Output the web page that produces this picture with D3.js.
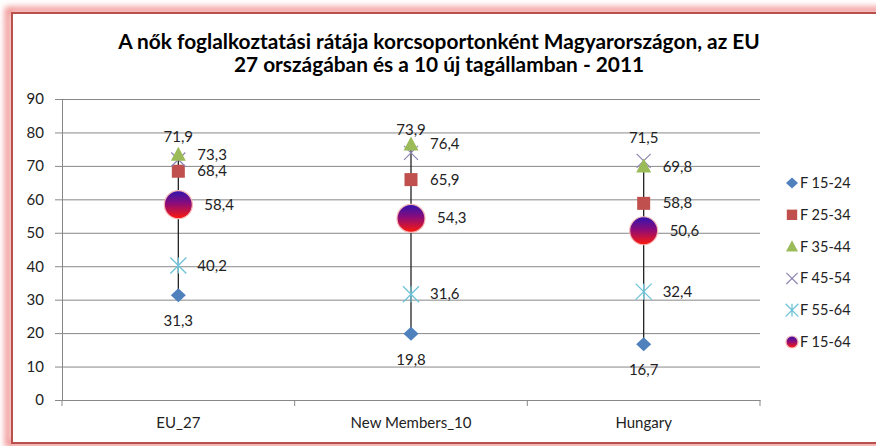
<!DOCTYPE html>
<html>
<head>
<meta charset="utf-8">
<script src="https://cdn.jsdelivr.net/npm/d3@7/dist/d3.min.js"></script>
<style>
  body { margin: 0; background: #fff; }
  svg { display: block; font-family: Lato, "Open Sans", sans-serif; }
</style>
</head>
<body>
<svg id="chart" width="876" height="446"></svg>
<script>
const titleLines = ['A nők foglalkoztatási rátája korcsoportonként Magyarországon, az EU',
    '27 országában és a 10 új tagállamban - 2011']
const categories = ['EU_27', 'New Members_10', 'Hungary']
const seriesNames = ['F 15-24', 'F 25-34', 'F 35-44', 'F 45-54', 'F 55-64', 'F 15-64']
const f1524 = [31.3, 19.8, 16.7]
const f2534 = [68.4, 65.9, 58.8]
const f3544 = [73.3, 76.4, 69.8]
const f4554 = [71.9, 73.9, 71.5]
const f5564 = [40.2, 31.6, 32.4]
const f1564 = [58.4, 54.3, 50.6]
const yTicks = [0, 10, 20, 30, 40, 50, 60, 70, 80, 90]

const seriesValues = [f1524, f2534, f3544, f4554, f5564, f1564]
const seriesStyle = [
    { shape: 'diamond', color: '#4F81BD', label: 'below' },
    { shape: 'square', color: '#C0504D', label: 'right' },
    { shape: 'triangle', color: '#9BBB59', label: 'right' },
    { shape: 'x', color: '#8C86B0', label: 'above' },
    { shape: 'star', color: '#6FC3D8', label: 'right' },
    { shape: 'ball', color: 'url(#ballGrad)', label: 'right2' }
]

const locale = d3.formatLocale({ decimal: ',', thousands: ' ', grouping: [3], currency: ['', ''] })
const fmt = locale.format('.1f')

const svg = d3.select('#chart')
const margin = { top: 99, right: 116, bottom: 46, left: 62 }
const width = +svg.attr('width') - margin.left - margin.right
const height = +svg.attr('height') - margin.top - margin.bottom

const defs = svg.append('defs')
const grad = defs.append('linearGradient').attr('id', 'ballGrad')
    .attr('x1', 0).attr('y1', 0).attr('x2', 0).attr('y2', 1)
grad.append('stop').attr('offset', '0%').attr('stop-color', '#2E14B0')
grad.append('stop').attr('offset', '45%').attr('stop-color', '#8A0C7A')
grad.append('stop').attr('offset', '100%').attr('stop-color', '#FF1A0A')
defs.append('filter').attr('id', 'glow')
    .attr('x', '-5%').attr('y', '-5%').attr('width', '110%').attr('height', '110%')
    .append('feGaussianBlur').attr('stdDeviation', 3)

// red frame with soft glow
svg.append('rect')
    .attr('x', 8).attr('y', 10).attr('width', 900).attr('height', 434)
    .attr('fill', 'none').attr('stroke', '#F08A8A').attr('stroke-width', 6)
    .attr('filter', 'url(#glow)')
svg.append('rect')
    .attr('x', 12).attr('y', 13).attr('width', 900).attr('height', 430)
    .attr('fill', '#fff').attr('stroke', '#B8504C').attr('stroke-width', 2)

// title
const title = svg.append('g').attr('font-weight', 'bold').attr('fill', '#000').attr('text-anchor', 'middle')
const t1 = title.append('text').attr('x', 439).attr('y', 49).attr('font-size', 18).text(titleLines[0])
const fs = 18 * 642 / t1.node().getComputedTextLength()
t1.attr('font-size', fs)
title.append('text').attr('x', 439).attr('y', 72).attr('font-size', fs).text(titleLines[1])

const g = svg.append('g').attr('transform', `translate(${margin.left},${margin.top})`)

const x = d3.scaleBand().domain(categories).range([0, width]).padding(0)
const y = d3.scaleLinear().domain([0, 90]).range([height, 0])

// left axis with gridlines
const yAxis = g.append('g')
    .call(d3.axisLeft(y).tickValues(yTicks).tickSizeInner(-width).tickSizeOuter(0).tickPadding(18))
yAxis.select('.domain').attr('stroke', '#888')
yAxis.selectAll('.tick line').attr('x1', -7).attr('stroke', '#888')
yAxis.selectAll('.tick text').attr('font-size', 15).attr('fill', '#222')
    .attr('font-family', 'Lato, sans-serif')

// bottom axis
const xAxis = g.append('g')
    .attr('transform', `translate(0,${height})`)
    .call(d3.axisBottom(x).tickSize(0).tickPadding(17))
xAxis.select('.domain').attr('stroke', '#888')
xAxis.selectAll('.tick text').attr('font-size', 15).attr('fill', '#222')
    .attr('font-family', 'Lato, sans-serif')
g.append('g').selectAll('line')
    .data(categories.map(c => x(c)).concat([width]))
    .join('line')
    .attr('x1', d => d).attr('x2', d => d)
    .attr('y1', height).attr('y2', height + 6)
    .attr('stroke', '#888')

const cx = c => x(c) + x.bandwidth() / 2

// high-low lines
g.append('g').selectAll('line')
    .data(categories.map((c, i) => ({
        c,
        lo: d3.min(seriesValues, s => s[i]),
        hi: d3.max(seriesValues, s => s[i])
    })))
    .join('line')
    .attr('x1', d => cx(d.c)).attr('x2', d => cx(d.c))
    .attr('y1', d => y(d.lo)).attr('y2', d => y(d.hi))
    .attr('stroke', '#222').attr('stroke-width', 1.3)

const drawMarker = (sel, shape, color, small) => {
    const k = small ? 0.8 : 1
    if (shape === 'diamond') {
        sel.append('path').attr('d', `M0,${-7 * k}L${7.5 * k},0L0,${7 * k}L${-7.5 * k},0Z`).attr('fill', color)
    } else if (shape === 'square') {
        sel.append('rect').attr('x', -6.5 * k).attr('y', -6.5 * k)
            .attr('width', 13 * k).attr('height', 13 * k).attr('fill', color)
    } else if (shape === 'triangle') {
        sel.append('path').attr('d', `M0,${-8 * k}L${7.5 * k},${6 * k}L${-7.5 * k},${6 * k}Z`).attr('fill', color)
    } else if (shape === 'x') {
        const r = 7 * k
        sel.append('path').attr('d', `M${-r},${-r}L${r},${r}M${-r},${r}L${r},${-r}`)
            .attr('stroke', color).attr('stroke-width', 1.2).attr('fill', 'none')
    } else if (shape === 'star') {
        const r = 8 * k
        sel.append('path').attr('d', `M${-r},${-r}L${r},${r}M${-r},${r}L${r},${-r}M0,${-r}L0,${r}`)
            .attr('stroke', color).attr('stroke-width', 1.3).attr('fill', 'none')
    } else if (shape === 'ball') {
        sel.append('circle').attr('r', small ? 6 : 14).attr('fill', color)
            .attr('stroke', '#F7B6B6').attr('stroke-width', 1.2)
    }
}

// draw order: X behind triangle
const drawOrder = [0, 1, 3, 2, 4, 5]
drawOrder.forEach(si => {
    const st = seriesStyle[si]
    const pts = g.append('g').selectAll('g')
        .data(categories.map((c, i) => ({ c, v: seriesValues[si][i] })))
        .join('g')
        .attr('transform', d => `translate(${cx(d.c)},${y(d.v)})`)
    pts.each(function () { drawMarker(d3.select(this), st.shape, st.color, false) })
})

// data labels
const labels = g.append('g').attr('font-size', 15).attr('fill', '#222')
seriesStyle.forEach((st, si) => {
    labels.append('g').selectAll('text')
        .data(categories.map((c, i) => ({ c, v: seriesValues[si][i] })))
        .join('text')
        .attr('x', d => cx(d.c) + (st.label === 'right' ? 19 : st.label === 'right2' ? 26 : 0))
        .attr('y', d => y(d.v) + (st.label === 'below' ? 31 : st.label === 'above' ? -18 : 5))
        .attr('text-anchor', st.label === 'below' || st.label === 'above' ? 'middle' : 'start')
        .text(d => fmt(d.v))
})

// legend
const legend = svg.append('g').attr('transform', 'translate(792,183)')
const items = legend.selectAll('g')
    .data(seriesNames)
    .join('g')
    .attr('transform', (d, i) => `translate(0,${i * 31.8})`)
items.each(function (d, i) {
    drawMarker(d3.select(this), seriesStyle[i].shape, seriesStyle[i].color, true)
})
items.append('text')
    .attr('x', 8).attr('y', 5)
    .attr('font-size', 14.5).attr('fill', '#222')
    .text(d => d)
</script>
</body>
</html>
